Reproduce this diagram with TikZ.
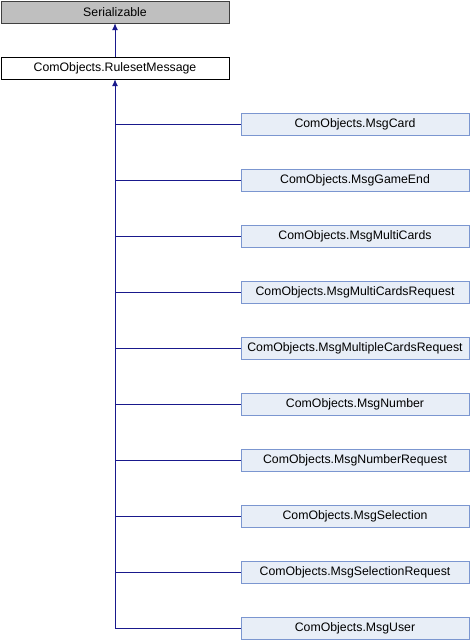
\documentclass[tikz,border=0pt]{standalone}
\usepackage{fontspec}
\setmainfont{Liberation Sans}
\usetikzlibrary{arrows.meta}

\definecolor{edgeblue}{RGB}{25,25,140}
\definecolor{boxfill}{RGB}{232,238,247}
\definecolor{boxline}{RGB}{123,150,208}
\definecolor{basefill}{RGB}{191,191,191}
\definecolor{baseline}{RGB}{64,64,64}

\tikzset{
  classbox/.style={draw=boxline, fill=boxfill, minimum width=228pt, minimum height=22pt,
    inner sep=0pt, font=\fontsize{12.3}{14}\selectfont},
  edge/.style={draw=edgeblue, line width=1pt},
  inherit/.style={edge, -{Latex[length=7pt,width=6pt]}}
}

\begin{document}
\begin{tikzpicture}[x=1pt,y=-1pt]
    \useasboundingbox (0,0) rectangle (470,640);
    % base classes
    \node[classbox, draw=baseline, fill=basefill] (ser) at (115,12) {Serializable};
    \node[classbox, draw=black, fill=white] (rs) at (115,68) {ComObjects.RulesetMessage};
    \draw[inherit] (rs) -- (ser);
    % derived messages
    \foreach \name [count=\i] in {MsgCard,MsgGameEnd,MsgMultiCards,MsgMultiCardsRequest,
        MsgMultipleCardsRequest,MsgNumber,MsgNumberRequest,MsgSelection,
        MsgSelectionRequest,MsgUser}{
      \node[classbox] (c\i) at (355,68+56*\i) {ComObjects.\name};
      \draw[edge] (c\i.west) -- (c\i.west -| rs.south);
    }
    \draw[inherit] (c10.west -| rs.south) -- (rs.south);
\end{tikzpicture}
\end{document}
